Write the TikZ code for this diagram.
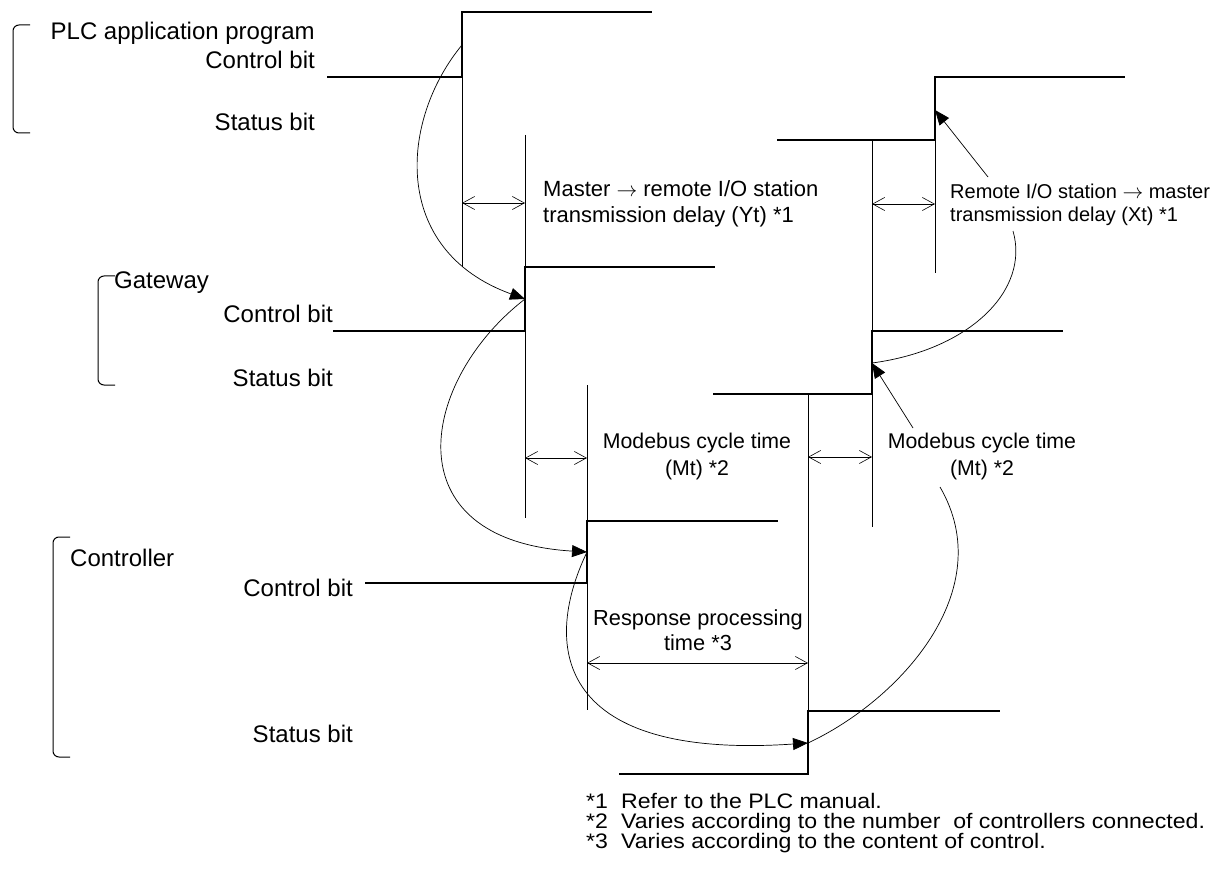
\documentclass[tikz,border=0pt]{standalone}
\usepackage{fontspec}
\setmainfont{Liberation Sans}
\newfontfamily\fnfont[FakeStretch=1.1]{Liberation Sans}
\usetikzlibrary{arrows.meta}
\newcommand{\rarr}{\ensuremath{\rightarrow}}
\begin{document}
\begin{tikzpicture}[x=1pt,y=-1pt,
  sig/.style={line width=2.4pt, line join=miter},
  vline/.style={line width=0.8pt},
  dim/.style={line width=0.6pt, {Straight Barb[length=12pt,width=13pt]}-{Straight Barb[length=12pt,width=13pt]}},
  flow/.style={line width=0.7pt, -{Triangle[length=15pt,width=12pt]}},
  plainc/.style={line width=0.7pt},
  brk/.style={line width=1pt, rounded corners=6pt},
  lbl/.style={font=\fontsize{24}{28}\selectfont, inner sep=0pt},
  lblm/.style={font=\fontsize{22}{26}\selectfont, inner sep=0pt, align=left},
  lbls/.style={font=\fontsize{20}{23}\selectfont, inner sep=0pt, align=left},
  lblc/.style={font=\fontsize{21.3}{27}\selectfont, inner sep=0pt, align=center},
  lblr/.style={font=\fontsize{21.8}{25}\selectfont, inner sep=0pt, align=center},
  fn/.style={font=\fnfont\fontsize{21}{20}\selectfont, inner sep=0pt, anchor=base west}
]
\useasboundingbox (0,0) rectangle (1216,869);

% ---- brackets
\draw[brk] (30,25) -- (13,25) -- (13,133) -- (30,133);
\draw[brk] (115,276) -- (98,276) -- (98,385) -- (115,385);
\draw[brk] (70,537) -- (53,537) -- (53,757) -- (70,757);

% ---- left labels
\node[lbl, anchor=east] (plcT) at (315,33) {PLC application program};
\node[lbl, anchor=east] (plcC) at (315,60) {Control bit};
\node[lbl, anchor=east] (plcS) at (315,122) {Status bit};
\node[lbl, anchor=west] (gwT) at (114,283) {Gateway};
\node[lbl, anchor=east] (gwC) at (333,314) {Control bit};
\node[lbl, anchor=east] (gwS) at (333,378) {Status bit};
\node[lbl, anchor=west] (ctT) at (70,558) {Controller};
\node[lbl, anchor=east] (ctC) at (353,588) {Control bit};
\node[lbl, anchor=east] (ctS) at (353,734) {Status bit};

% ---- step points
\coordinate (pc) at (462,45);
\coordinate (ps) at (935,110);
\coordinate (gc) at (525,299);
\coordinate (gs) at (872,363);
\coordinate (cc) at (587,552);
\coordinate (cs) at (808,743);

% ---- thin vertical lines
\draw[vline] (462,77) -- (462,267);
\draw[vline] (525,135) -- (525,518);
\draw[vline] (587,385) -- (587,710);
\draw[vline] (808,394) -- (808,711);
\draw[vline] (872,140) -- (872,527);
\draw[vline] (935,140) -- (935,273);

% ---- signals
\draw[sig] (327,77) -- (462,77) -- (462,12) -- (652,12);
\draw[sig] (777,140) -- (935,140) -- (935,77) -- (1125,77);
\draw[sig] (333,331) -- (525,331) -- (525,267) -- (715,267);
\draw[sig] (713,394) -- (872,394) -- (872,331) -- (1063,331);
\draw[sig] (365,583) -- (587,583) -- (587,521) -- (778,521);
\draw[sig] (619,774) -- (808,774) -- (808,711) -- (1000,711);

% ---- dimension arrows
\draw[dim] (462,203) -- (525,203);
\draw[dim] (872,204) -- (935,204);
\draw[dim] (525,458) -- (587,458);
\draw[dim] (808,457) -- (872,457);
\draw[dim] (587,663) -- (808,663);

% ---- time labels
\node[lblm, anchor=west] (yt) at (543,204) {Master \rarr\ remote I/O station\\transmission delay (Yt) *1};
\node[lbls, anchor=west] (xt) at (950,205) {Remote I/O station \rarr\ master\\transmission delay (Xt) *1};
\node[lblc] (mt1) at (697,456) {Modebus cycle time\\(Mt) *2};
\node[lblc] (mt2) at (982,456) {Modebus cycle time\\(Mt) *2};
\node[lblr] (rp) at (698,630) {Response processing\\time *3};

% ---- flow curves
\draw[flow] (pc) .. controls (400,120) and (390,250) .. (gc);
\draw[flow] (gc) .. controls (420,380) and (390,540) .. (cc);
\draw[flow] (cc) .. controls (540,650) and (560,760) .. (cs);
\draw[plainc] (cs) .. controls (900,700) and (1000,590) .. (940,487);
\draw[flow] (913,428) -- (gs);
\draw[plainc] (gs) .. controls (970,350) and (1030,290) .. (1013,231);
\draw[flow] (988,177) -- (ps);

% ---- footnotes
\node[fn] (f1m) at (586,808) {*1};
\node[fn] (f1) at (621,808) {Refer to the PLC manual.};
\node[fn] (f2m) at (586,828) {*2};
\node[fn] (f2) at (621,828) {Varies according to the number\ \ of controllers connected.};
\node[fn] (f3m) at (586,848) {*3};
\node[fn] (f3) at (621,848) {Varies according to the content of control.};
\end{tikzpicture}
\end{document}
